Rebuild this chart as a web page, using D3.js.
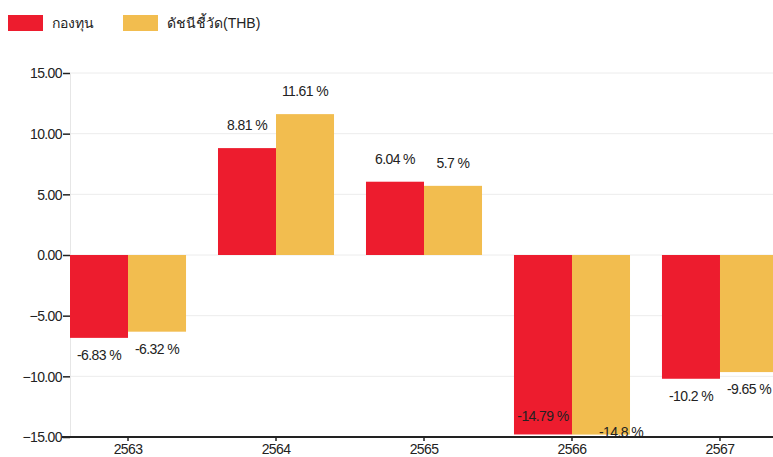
<!DOCTYPE html>
<html>
<head>
<meta charset="utf-8">
<script src="https://cdn.jsdelivr.net/npm/d3@7"></script>
<style>
  body { margin: 0; background: #fff; }
  svg text { font-family: "Liberation Sans", Arial, sans-serif; fill: #222; }
</style>
</head>
<body>
<svg id="chart" width="773" height="457"></svg>
<script>
// data
var years = ["2563", "2564", "2565", "2566", "2567"];
var fundValues = [-6.83, 8.81, 6.04, -14.79, -10.2];
var benchValues = [-6.32, 11.61, 5.7, -14.8, -9.65];
var seriesNames = ["กองทุน", "ดัชนีชี้วัด(THB)"];
var seriesColors = ["#ed1c2e", "#f2bd4f"];
var yTicks = [15, 10, 5, 0, -5, -10, -15];

var svg = d3.select("#chart"),
    width = +svg.attr("width"),
    height = +svg.attr("height");

var plotLeft = 70, plotTop = 73, plotBottom = 437, plotRight = 778;

var x = d3.scaleBand()
    .domain(years)
    .range([plotLeft, plotRight])
    .paddingInner(0.216)
    .paddingOuter(0);

var xSub = d3.scaleBand()
    .domain([0, 1])
    .range([0, x.bandwidth()]);

var y = d3.scaleLinear()
    .domain([-15, 15])
    .range([plotBottom, plotTop]);

// gridlines
svg.append("g")
  .selectAll("line")
  .data(yTicks)
  .enter()
  .append("line")
    .attr("x1", plotLeft)
    .attr("x2", width)
    .attr("y1", function(d){ return y(d) })
    .attr("y2", function(d){ return y(d) })
    .attr("stroke", "#ececec")
    .attr("stroke-width", 1);

// y axis
var yAxis = svg.append("g")
    .attr("transform", "translate(" + plotLeft + ",0)")
    .call(d3.axisLeft(y).tickValues(yTicks).tickSize(7).tickSizeOuter(0).tickFormat(d3.format(".2f")));
yAxis.select(".domain").attr("stroke", "#e6e6e6");
yAxis.selectAll(".tick line").attr("stroke", "#222").attr("stroke-width", 1.5);
yAxis.selectAll("text").attr("font-size", 14).attr("x", -8).attr("dy", "0.35em").attr("letter-spacing", "-0.6px");

// bars
var rows = years.map(function(yr, i){ return [fundValues[i], benchValues[i]] });

var groups = svg.append("g")
  .selectAll("g")
  .data(rows)
  .enter()
  .append("g")
    .attr("transform", function(d, i){ return "translate(" + x(years[i]) + ",0)" });

groups.selectAll("rect")
  .data(function(d){ return d })
  .enter()
  .append("rect")
    .attr("x", function(d, j){ return xSub(j) })
    .attr("width", xSub.bandwidth())
    .attr("y", function(d){ return y(Math.max(0, d)) })
    .attr("height", function(d){ return Math.abs(y(d) - y(0)) })
    .attr("fill", function(d, j){ return seriesColors[j] });

// value labels
groups.selectAll("text")
  .data(function(d){ return d })
  .enter()
  .append("text")
    .attr("text-anchor", "middle")
    .attr("font-size", 14)
    .attr("letter-spacing", "-0.6px")
    .attr("x", function(d, j){
      var cx = xSub(j) + xSub.bandwidth() / 2;
      if (d < 0 && y(d) + 20 > plotBottom && j == 1) cx += 20;
      return cx;
    })
    .attr("y", function(d, j){
      if (d >= 0) return y(d) - 18;
      var ly = y(d) + 22;
      if (ly > plotBottom) ly = (j == 0) ? plotBottom - 16 : plotBottom;
      return ly;
    })
    .text(function(d){ return d + " %" });

// x axis
var xAxis = svg.append("g")
    .attr("transform", "translate(0," + plotBottom + ")")
    .call(d3.axisBottom(x).tickSize(4).tickSizeOuter(0));
xAxis.select(".domain").attr("stroke", "#222").attr("stroke-width", 2).attr("d", "M62,0H" + width);
xAxis.selectAll(".tick line").attr("stroke", "#222").attr("stroke-width", 1.5);
xAxis.selectAll("text").attr("font-size", 14).attr("y", 7).attr("letter-spacing", "-0.6px");

// legend
var legend = svg.append("g")
  .selectAll("g")
  .data(seriesNames)
  .enter()
  .append("g")
    .attr("transform", function(d, i){ return "translate(" + (8 + i * 115) + ",15)" });

legend.append("rect")
    .attr("width", 35)
    .attr("height", 16)
    .attr("fill", function(d, i){ return seriesColors[i] });

legend.append("text")
    .attr("x", 44)
    .attr("y", 8)
    .attr("dy", "0.35em")
    .attr("font-size", 14)
    .text(function(d){ return d });
</script>
</body>
</html>
